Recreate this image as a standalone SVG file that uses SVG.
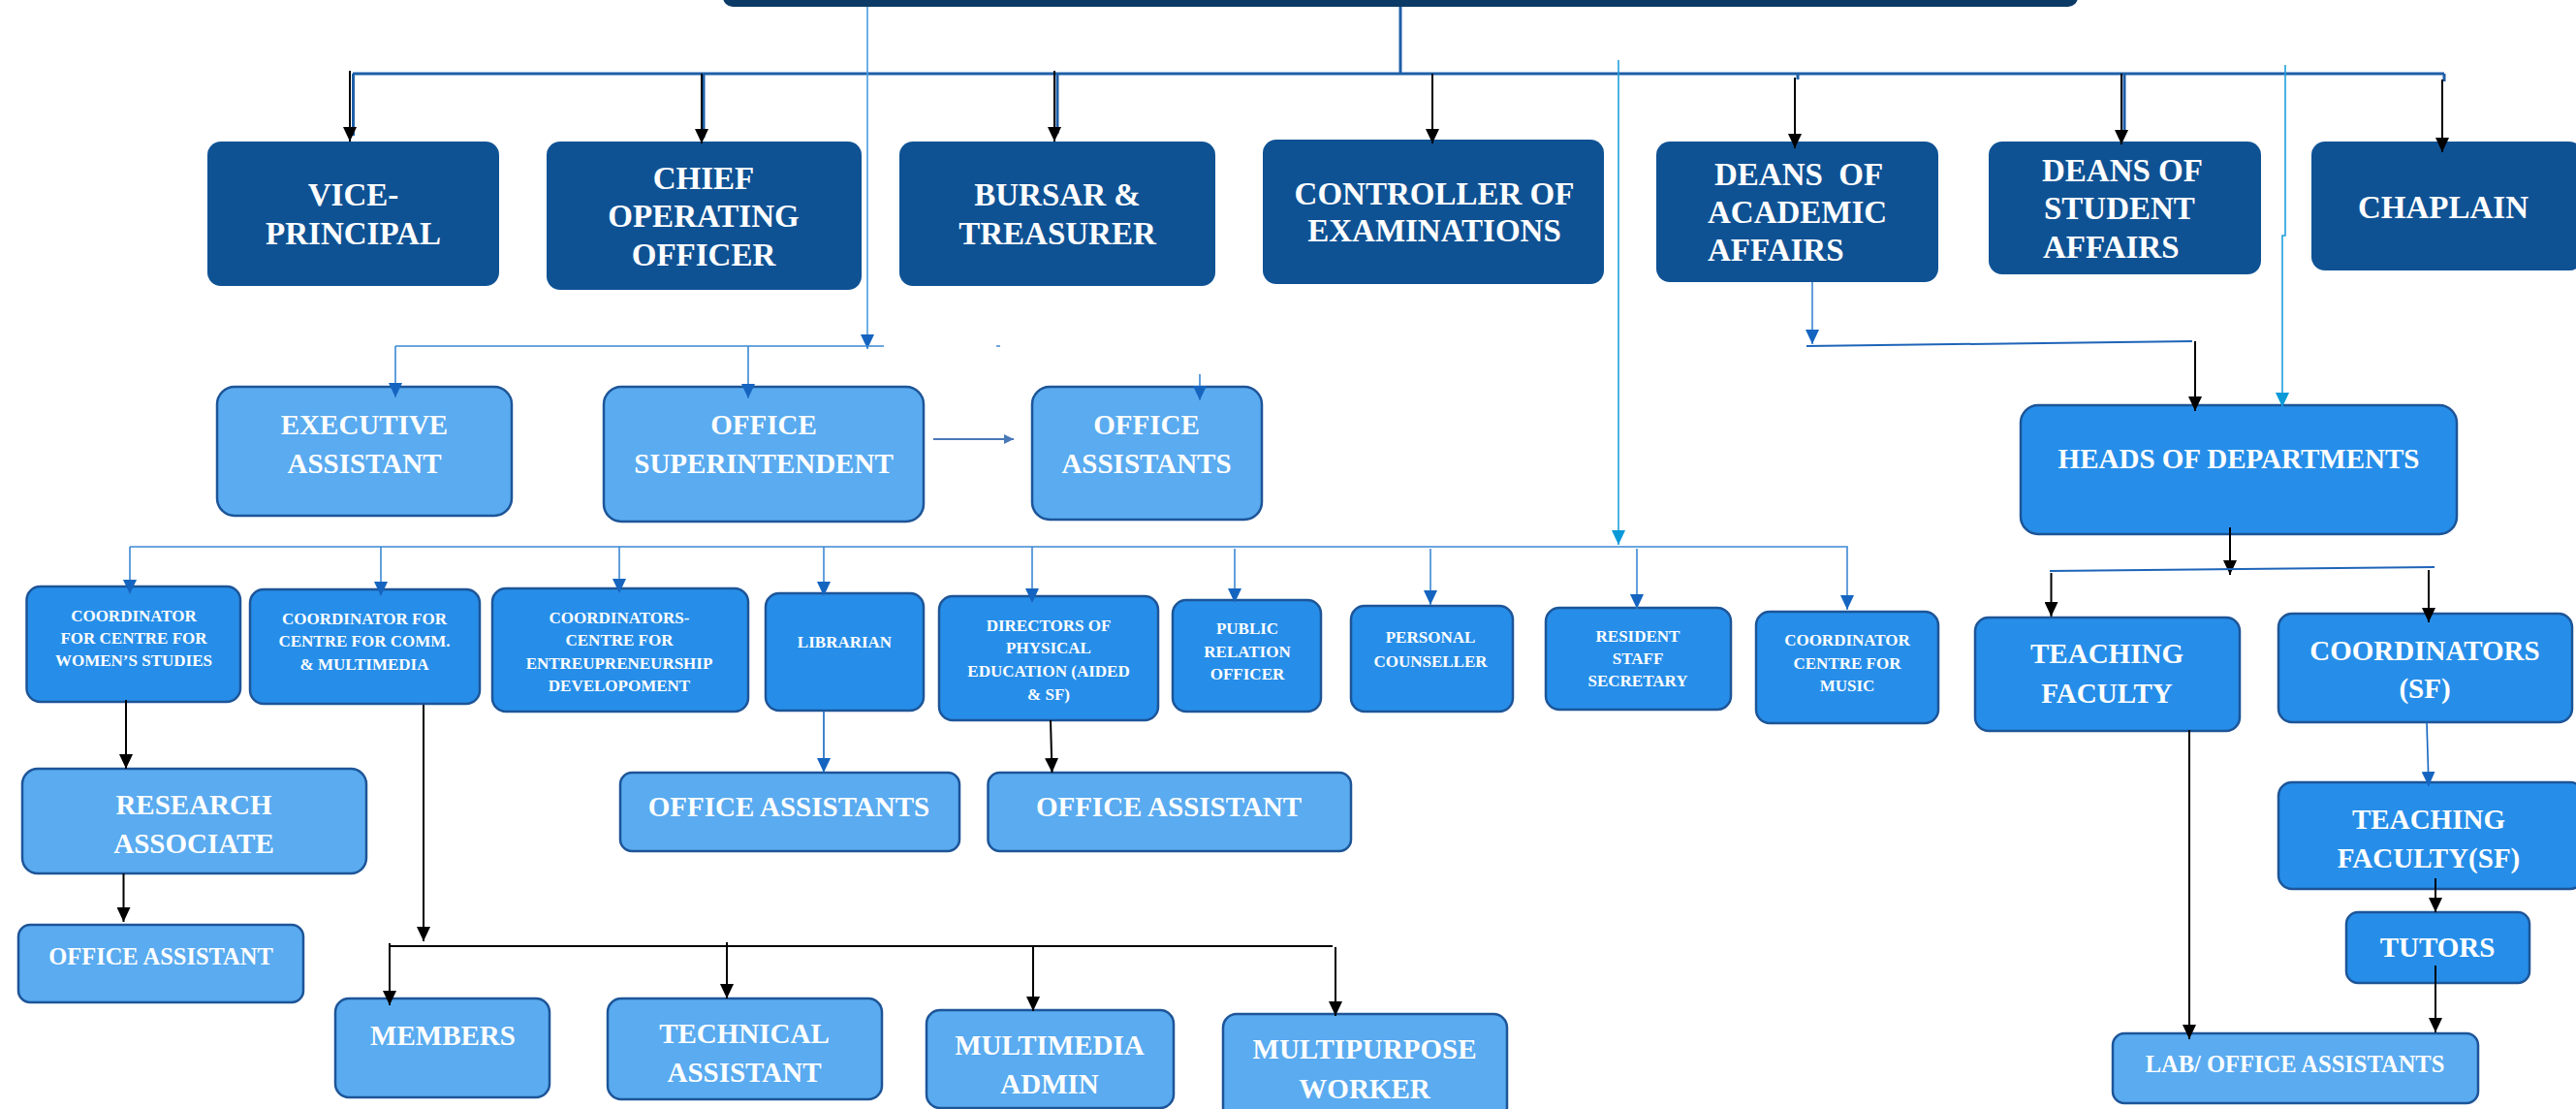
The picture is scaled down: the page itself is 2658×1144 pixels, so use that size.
<svg xmlns="http://www.w3.org/2000/svg" width="2658" height="1144" viewBox="0 0 2658 1144">
<defs>
<style>
text{font-family:"Liberation Serif","Times New Roman",serif;font-weight:bold;fill:#ffffff;text-anchor:middle}
.s{text-anchor:start}
.f33{font-size:33px}
.f29{font-size:29px}
.f24{font-size:24.5px}
.f17{font-size:17px}
.dark{fill:#0f5294}
.light{fill:#5aabf0;stroke:#1d5598;stroke-width:2.5}
.mid{fill:#268ee9;stroke:#1d5598;stroke-width:2.5}
.bus{stroke:#1e5fa8;stroke-width:3}
.blk{stroke:#000;stroke-width:2}
.bl{stroke:#3d88d4;stroke-width:1.6}
.cy{stroke:#1fa0dc;stroke-width:1.6}
</style>
<marker id="ab" viewBox="0 0 15 14" refX="15" refY="7" markerWidth="15" markerHeight="14" markerUnits="userSpaceOnUse" orient="auto"><path d="M0,0 L15,7 L0,14 z" fill="#000"/></marker>
<marker id="au" viewBox="0 0 15 14" refX="15" refY="7" markerWidth="15" markerHeight="14" markerUnits="userSpaceOnUse" orient="auto"><path d="M0,0 L15,7 L0,14 z" fill="#1565c0"/></marker>
<marker id="ac" viewBox="0 0 15 14" refX="15" refY="7" markerWidth="15" markerHeight="14" markerUnits="userSpaceOnUse" orient="auto"><path d="M0,0 L15,7 L0,14 z" fill="#0a9ad8"/></marker>
<marker id="as" viewBox="0 0 10 10" refX="10" refY="5" markerWidth="10" markerHeight="10" markerUnits="userSpaceOnUse" orient="auto"><path d="M0,0 L10,5 L0,10 z" fill="#4a78b8"/></marker>
</defs>

<g id="n-principal"><rect x="746" y="-30" width="1398" height="37" rx="10" fill="#0c3a66"/></g>

<g id="n-vice-principal"><rect class="dark" x="214" y="146" width="301" height="149" rx="14"/><text class="f33" x="364.5" y="212">VICE-</text><text class="f33" x="364.5" y="252">PRINCIPAL</text></g>
<g id="n-coo"><rect class="dark" x="564" y="146" width="325" height="153" rx="14"/><text class="f33" x="726" y="195">CHIEF</text><text class="f33" x="726" y="234">OPERATING</text><text class="f33" x="726" y="274">OFFICER</text></g>
<g id="n-bursar"><rect class="dark" x="928" y="146" width="326" height="149" rx="14"/><text class="f33" x="1091" y="212">BURSAR &amp;</text><text class="f33" x="1091" y="252">TREASURER</text></g>
<g id="n-controller"><rect class="dark" x="1303" y="144" width="352" height="149" rx="14"/><text class="f33" x="1480" y="211">CONTROLLER OF</text><text class="f33" x="1480" y="249">EXAMINATIONS</text></g>
<g id="n-deans-academic"><rect class="dark" x="1709" y="146" width="291" height="145" rx="14"/><text class="f33 s" x="1769" y="191">DEANS&#160; OF</text><text class="f33 s" x="1762" y="230">ACADEMIC</text><text class="f33 s" x="1762" y="269">AFFAIRS</text></g>
<g id="n-deans-student"><rect class="dark" x="2052" y="146" width="281" height="137" rx="14"/><text class="f33 s" x="2107" y="187">DEANS OF</text><text class="f33 s" x="2109" y="226">STUDENT</text><text class="f33 s" x="2108" y="266">AFFAIRS</text></g>
<g id="n-chaplain"><rect class="dark" x="2385" y="146" width="280" height="133" rx="14"/><text class="f33" x="2521" y="225">CHAPLAIN</text></g>

<g id="n-executive-assistant"><rect class="light" x="224" y="399" width="304" height="133" rx="18"/><text class="f29" x="376" y="448">EXECUTIVE</text><text class="f29" x="376" y="488">ASSISTANT</text></g>
<g id="n-office-superintendent"><rect class="light" x="623" y="399" width="330" height="139" rx="18"/><text class="f29" x="788" y="448">OFFICE</text><text class="f29" x="788" y="488">SUPERINTENDENT</text></g>
<g id="n-office-assistants-top"><rect class="light" x="1065" y="399" width="237" height="137" rx="18"/><text class="f29" x="1183" y="448">OFFICE</text><text class="f29" x="1183" y="488">ASSISTANTS</text></g>

<g id="n-coord-women"><rect class="mid" x="27.5" y="605" width="220.5" height="119" rx="14"/><text class="f17" x="138" y="641">COORDINATOR</text><text class="f17" x="138" y="664">FOR CENTRE FOR</text><text class="f17" x="138" y="687">WOMEN’S STUDIES</text></g>
<g id="n-coord-comm"><rect class="mid" x="258" y="608" width="237" height="118" rx="14"/><text class="f17" x="376" y="644">COORDINATOR FOR</text><text class="f17" x="376" y="667">CENTRE FOR COMM.</text><text class="f17" x="376" y="691">&amp; MULTIMEDIA</text></g>
<g id="n-coord-entre"><rect class="mid" x="508" y="607" width="264" height="127" rx="14"/><text class="f17" x="639" y="643">COORDINATORS-</text><text class="f17" x="639" y="666">CENTRE FOR</text><text class="f17" x="639" y="690">ENTREUPRENEURSHIP</text><text class="f17" x="639" y="713">DEVELOPOMENT</text></g>
<g id="n-librarian"><rect class="mid" x="790" y="612" width="163" height="121" rx="14"/><text class="f17" x="871.5" y="668">LIBRARIAN</text></g>
<g id="n-directors-pe"><rect class="mid" x="969" y="615" width="226" height="128" rx="14"/><text class="f17" x="1082" y="651">DIRECTORS OF</text><text class="f17" x="1082" y="674">PHYSICAL</text><text class="f17" x="1082" y="698">EDUCATION (AIDED</text><text class="f17" x="1082" y="722">&amp; SF)</text></g>
<g id="n-pro"><rect class="mid" x="1210" y="619" width="153" height="115" rx="14"/><text class="f17" x="1287" y="654">PUBLIC</text><text class="f17" x="1287" y="678">RELATION</text><text class="f17" x="1287" y="701">OFFICER</text></g>
<g id="n-counseller"><rect class="mid" x="1394" y="625" width="167" height="109" rx="14"/><text class="f17" x="1476" y="663">PERSONAL</text><text class="f17" x="1476" y="688">COUNSELLER</text></g>
<g id="n-resident"><rect class="mid" x="1595" y="627" width="191" height="105" rx="14"/><text class="f17" x="1690" y="662">RESIDENT</text><text class="f17" x="1690" y="685">STAFF</text><text class="f17" x="1690" y="708">SECRETARY</text></g>
<g id="n-coord-music"><rect class="mid" x="1812" y="631" width="188" height="115" rx="14"/><text class="f17" x="1906" y="666">COORDINATOR</text><text class="f17" x="1906" y="690">CENTRE FOR</text><text class="f17" x="1906" y="713">MUSIC</text></g>

<g id="n-hod"><rect class="mid" x="2085" y="418" width="450" height="133" rx="18"/><text class="f29" x="2310" y="483">HEADS OF DEPARTMENTS</text></g>
<g id="n-teaching-faculty"><rect class="mid" x="2038" y="637" width="273" height="117" rx="14"/><text class="f29" x="2174" y="684">TEACHING</text><text class="f29" x="2174" y="725">FACULTY</text></g>
<g id="n-coordinators-sf"><rect class="mid" x="2351" y="633" width="303" height="112" rx="14"/><text class="f29" x="2502" y="681">COORDINATORS</text><text class="f29" x="2502" y="720">(SF)</text></g>
<g id="n-teaching-faculty-sf"><rect class="mid" x="2351" y="807" width="315" height="110" rx="14"/><text class="f29" x="2506" y="855">TEACHING</text><text class="f29" x="2506" y="895">FACULTY(SF)</text></g>
<g id="n-tutors"><rect class="mid" x="2421" y="941" width="189" height="73" rx="12"/><text class="f29" x="2515" y="987">TUTORS</text></g>
<g id="n-lab-office"><rect class="light" x="2180" y="1066" width="377" height="72" rx="12"/><text class="f24" x="2368" y="1106">LAB/ OFFICE ASSISTANTS</text></g>

<g id="n-research-associate"><rect class="light" x="23" y="793" width="355" height="108" rx="16"/><text class="f29" x="200" y="840">RESEARCH</text><text class="f29" x="200" y="880">ASSOCIATE</text></g>
<g id="n-office-assistant-left"><rect class="light" x="19" y="954" width="294" height="80" rx="12"/><text class="f24" x="166" y="995">OFFICE ASSISTANT</text></g>
<g id="n-office-assistants-lib"><rect class="light" x="640" y="797" width="350" height="81" rx="12"/><text class="f29" x="814" y="842">OFFICE ASSISTANTS</text></g>
<g id="n-office-assistant-pe"><rect class="light" x="1019.5" y="797" width="374.5" height="81" rx="12"/><text class="f29" x="1206" y="842">OFFICE ASSISTANT</text></g>

<g id="n-members"><rect class="light" x="346" y="1030" width="221" height="102" rx="14"/><text class="f29" x="457" y="1078">MEMBERS</text></g>
<g id="n-technical"><rect class="light" x="627" y="1030" width="283" height="104" rx="14"/><text class="f29" x="768" y="1076">TECHNICAL</text><text class="f29" x="768" y="1116">ASSISTANT</text></g>
<g id="n-multimedia-admin"><rect class="light" x="956" y="1042" width="255" height="101" rx="14"/><text class="f29" x="1083" y="1088">MULTIMEDIA</text><text class="f29" x="1083" y="1128">ADMIN</text></g>
<g id="n-multipurpose"><rect class="light" x="1262" y="1046" width="293" height="110" rx="14"/><text class="f29" x="1408" y="1092">MULTIPURPOSE</text><text class="f29" x="1408" y="1133">WORKER</text></g>

<g id="connectors" fill="none">
<path class="bus" d="M1445,7 V76 M364,76 H2522"/>
<path class="bus" stroke-width="2" d="M364.5,76 V140 M726,76 V142 M1091,76 V138 M1855,76 V82 M2192,76 V135 M2522,76 V84"/>
<path class="blk" marker-end="url(#ab)" d="M361,73 V146"/>
<path class="blk" marker-end="url(#ab)" d="M724,76 V148"/>
<path class="blk" marker-end="url(#ab)" d="M1088,73 V146"/>
<path class="blk" marker-end="url(#ab)" d="M1478,76 V148"/>
<path class="blk" marker-end="url(#ab)" d="M1852,80 V153"/>
<path class="blk" marker-end="url(#ab)" d="M2189,76 V149"/>
<path class="blk" marker-end="url(#ab)" d="M2520,82 V157"/>

<path stroke="#4a9de0" stroke-width="1.6" marker-end="url(#au)" d="M895,7 V360"/>
<path class="bl" d="M408,357 H912 M1028,357 H1032"/>
<path class="bl" marker-end="url(#au)" d="M408,357 V410"/>
<path class="bl" marker-end="url(#au)" d="M772,357 V411"/>
<path class="bl" marker-end="url(#au)" d="M1238,386 V413"/>
<path stroke="#4a78b8" stroke-width="2" marker-end="url(#as)" d="M963,453 H1046"/>

<path class="cy" marker-end="url(#ac)" d="M1670,62 V562"/>
<path class="bl" marker-end="url(#au)" d="M134,564 H1906 V629"/>
<path class="bl" marker-end="url(#au)" d="M134,564 V613"/>
<path class="bl" marker-end="url(#au)" d="M393,564 V615"/>
<path class="bl" marker-end="url(#au)" d="M639,564 V612"/>
<path class="bl" marker-end="url(#au)" d="M850,564 V615"/>
<path class="bl" marker-end="url(#au)" d="M1065,564 V622"/>
<path class="bl" marker-end="url(#au)" d="M1274,566 V622"/>
<path class="bl" marker-end="url(#au)" d="M1476,566 V624"/>
<path class="bl" marker-end="url(#au)" d="M1689,566 V628"/>

<path class="bl" marker-end="url(#au)" d="M1870,291 V355"/>
<path stroke="#1e64b8" stroke-width="2" d="M1864,357 L2262,352"/>
<path class="blk" marker-end="url(#ab)" d="M2265,352 V424"/>
<path class="cy" marker-end="url(#ac)" d="M2358,67 V243 H2355 V420"/>

<path class="blk" marker-end="url(#ab)" d="M2301,544 V593"/>
<path stroke="#1e64b8" stroke-width="2" d="M2115,589 L2512,585"/>
<path class="blk" marker-end="url(#ab)" d="M2116.5,591 V636"/>
<path class="blk" marker-end="url(#ab)" d="M2506,588 V642"/>
<path stroke="#1565c0" stroke-width="1.6" marker-end="url(#au)" d="M2504,745 L2506,811"/>
<path class="blk" marker-end="url(#ab)" d="M2513,906 V941"/>
<path class="blk" marker-end="url(#ab)" d="M2513,996 V1065"/>
<path class="blk" marker-end="url(#ab)" d="M2259,753 V1072"/>

<path class="blk" marker-end="url(#ab)" d="M130,722 V793"/>
<path class="blk" marker-end="url(#ab)" d="M127.5,901 V951"/>
<path class="blk" marker-end="url(#ab)" d="M437,727 V971"/>
<path class="blk" d="M402,976 H1375"/>
<path class="blk" marker-end="url(#ab)" d="M402,973 V1037"/>
<path class="blk" marker-end="url(#ab)" d="M750,972 V1030"/>
<path class="blk" marker-end="url(#ab)" d="M1066,976 V1043"/>
<path class="blk" marker-end="url(#ab)" d="M1378,977 V1048"/>
<path stroke="#1565c0" stroke-width="1.6" marker-end="url(#au)" d="M850,733 V797"/>
<path class="blk" marker-end="url(#ab)" d="M1084,743 L1085.5,797"/>
</g>
</svg>
